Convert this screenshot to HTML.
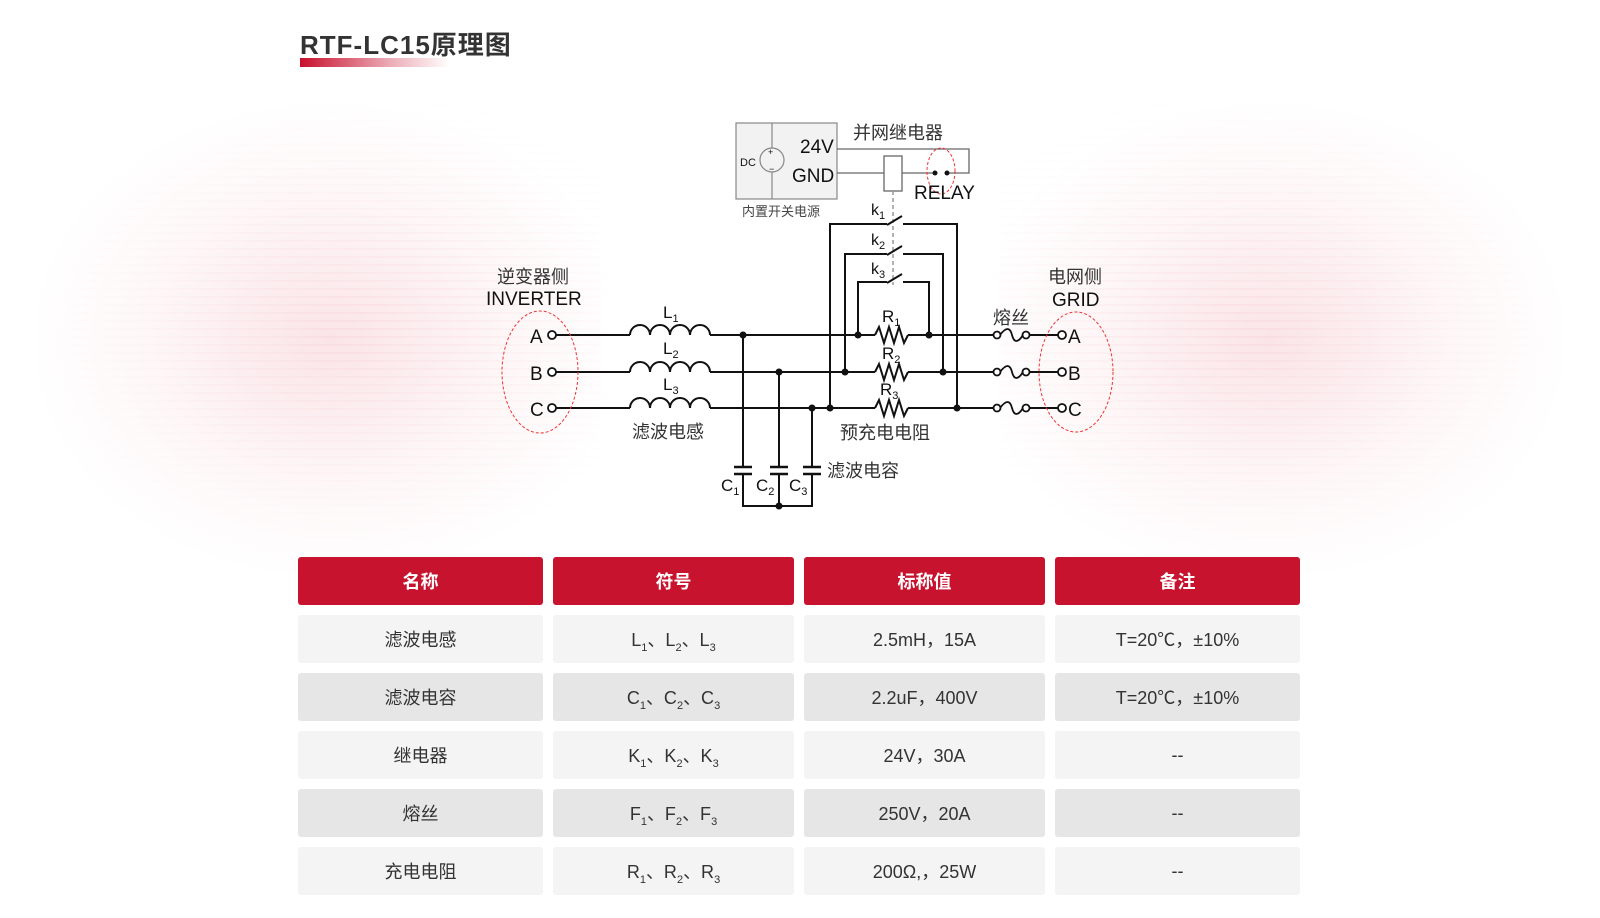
<!DOCTYPE html>
<html><head><meta charset="utf-8">
<style>
html,body{margin:0;padding:0}
body{width:1600px;height:918px;position:relative;overflow:hidden;background:#fff;font-family:"Liberation Sans","Noto Sans CJK SC",sans-serif}
.bg{position:absolute;top:60px;height:520px;width:600px}
.bgl{left:0;background:radial-gradient(ellipse 300px 240px at 330px 280px,rgba(232,120,135,0.20),rgba(240,160,170,0.09) 60%,rgba(255,255,255,0) 100%)}
.bgr{right:0;background:radial-gradient(ellipse 300px 240px at 270px 280px,rgba(232,120,135,0.20),rgba(240,160,170,0.09) 60%,rgba(255,255,255,0) 100%)}
.stripes{position:absolute;top:90px;height:460px;width:560px;background:repeating-linear-gradient(180deg,rgba(255,255,255,0) 0 6px,rgba(230,140,150,0.08) 6px 8px);}
.title{position:absolute;left:300px;top:30px;font-size:26px;line-height:30px;font-weight:bold;color:#333;font-family:"Liberation Sans","Noto Sans CJK SC",sans-serif;letter-spacing:1px}
.bar{position:absolute;left:300px;top:58px;width:150px;height:9px;background:linear-gradient(90deg,#c8102e,rgba(200,16,46,0.35) 60%,rgba(255,255,255,0))}
.c{position:absolute;display:flex;align-items:center;justify-content:center;font-size:18px;color:#333;border-radius:3px}
.h{background:#c8132f;color:#fff;font-weight:bold;height:48px;top:557px}
sub{font-size:11px;vertical-align:-5px;line-height:0}
</style></head><body>
<div class="bg bgl"></div><div class="bg bgr"></div>
<div class="stripes" style="left:40px;-webkit-mask-image:radial-gradient(ellipse at 60% 50%,#000,transparent 70%);mask-image:radial-gradient(ellipse at 60% 50%,#000,transparent 70%)"></div>
<div class="stripes" style="right:40px;-webkit-mask-image:radial-gradient(ellipse at 40% 50%,#000,transparent 70%);mask-image:radial-gradient(ellipse at 40% 50%,#000,transparent 70%)"></div>
<div class="title">RTF-LC15原理图</div>
<div class="bar"></div>

<svg width="1600" height="918" style="position:absolute;left:0;top:0" font-family="Liberation Sans, Noto Sans CJK SC, sans-serif">
<g fill="none" stroke="#111" stroke-width="2">
<rect x="736" y="123" width="101" height="76" fill="#f2f2f2" stroke="#888" stroke-width="1.2"/>
<line x1="772" y1="123" x2="772" y2="199" stroke="#888" stroke-width="1.2"/>
<circle cx="772" cy="160" r="12" fill="#f2f2f2" stroke="#888" stroke-width="1.2"/>
<polyline points="837,149 969,149 969,173 947,173" stroke="#666" stroke-width="1.3"/>
<line x1="837" y1="173" x2="884" y2="173" stroke="#666" stroke-width="1.3"/>
<line x1="902" y1="173" x2="935" y2="173" stroke="#666" stroke-width="1.3"/>
<rect x="884" y="156" width="18" height="35" fill="#fff" stroke="#666" stroke-width="1.3"/>
<ellipse cx="941" cy="171" rx="14" ry="23" stroke="#e33" stroke-width="1" stroke-dasharray="3,2"/>
<line x1="893" y1="191" x2="893" y2="285" stroke="#999" stroke-width="1.5" stroke-dasharray="4,3"/>
<polyline points="830,408 830,224 887,224"/><line x1="887" y1="225" x2="902" y2="216"/><polyline points="903,224 957,224 957,408"/>
<polyline points="845,372 845,254 887,254"/><line x1="887" y1="255" x2="902" y2="246"/><polyline points="903,254 943,254 943,372"/>
<polyline points="858,335 858,282 887,282"/><line x1="887" y1="283" x2="902" y2="274"/><polyline points="903,282 929,282 929,335"/>
<line x1="556" y1="335" x2="630" y2="335"/><line x1="710" y1="335" x2="875" y2="335"/><line x1="908" y1="335" x2="993" y2="335"/><line x1="1030" y1="335" x2="1058" y2="335"/>
<line x1="556" y1="372" x2="630" y2="372"/><line x1="710" y1="372" x2="875" y2="372"/><line x1="908" y1="372" x2="993" y2="372"/><line x1="1030" y1="372" x2="1058" y2="372"/>
<line x1="556" y1="408" x2="630" y2="408"/><line x1="710" y1="408" x2="875" y2="408"/><line x1="908" y1="408" x2="993" y2="408"/><line x1="1030" y1="408" x2="1058" y2="408"/>
<path d="M630,335 a10,10 0 0 1 20,0 a10,10 0 0 1 20,0 a10,10 0 0 1 20,0 a10,10 0 0 1 20,0"/>
<path d="M630,372 a10,10 0 0 1 20,0 a10,10 0 0 1 20,0 a10,10 0 0 1 20,0 a10,10 0 0 1 20,0"/>
<path d="M630,408 a10,10 0 0 1 20,0 a10,10 0 0 1 20,0 a10,10 0 0 1 20,0 a10,10 0 0 1 20,0"/>
<polyline points="875,335 879,327 884,343 889,327 894,343 899,327 904,343 908,335" fill="#fff"/>
<polyline points="875,372 879,364 884,380 889,364 894,380 899,364 904,380 908,372" fill="#fff"/>
<polyline points="875,408 879,400 884,416 889,400 894,416 899,400 904,416 908,408" fill="#fff"/>
<g stroke-width="1.8">
<circle cx="997" cy="335" r="3.5" fill="#fff"/><circle cx="1026" cy="335" r="3.5" fill="#fff"/><path d="M1000,335 c6,-8 10,-8 12,0 c2,8 6,8 11,0"/>
<circle cx="997" cy="372" r="3.5" fill="#fff"/><circle cx="1026" cy="372" r="3.5" fill="#fff"/><path d="M1000,372 c6,-8 10,-8 12,0 c2,8 6,8 11,0"/>
<circle cx="997" cy="408" r="3.5" fill="#fff"/><circle cx="1026" cy="408" r="3.5" fill="#fff"/><path d="M1000,408 c6,-8 10,-8 12,0 c2,8 6,8 11,0"/>
</g>
<polyline points="743,335 743,467"/><polyline points="743,474 743,506 812,506 812,474"/>
<polyline points="779,372 779,467"/><line x1="779" y1="474" x2="779" y2="506"/>
<polyline points="812,408 812,467"/>
<g stroke-width="2.5"><line x1="734" y1="467" x2="752" y2="467"/><line x1="734" y1="474" x2="752" y2="474"/>
<line x1="770" y1="467" x2="788" y2="467"/><line x1="770" y1="474" x2="788" y2="474"/>
<line x1="803" y1="467" x2="821" y2="467"/><line x1="803" y1="474" x2="821" y2="474"/></g>
<g stroke-width="1.8" fill="#fff">
<circle cx="552" cy="335" r="4"/><circle cx="552" cy="372" r="4"/><circle cx="552" cy="408" r="4"/>
<circle cx="1062" cy="335" r="4"/><circle cx="1062" cy="372" r="4"/><circle cx="1062" cy="408" r="4"/>
</g>
<ellipse cx="540" cy="372" rx="38" ry="61" stroke="#e33" stroke-width="1" stroke-dasharray="3,2"/>
<ellipse cx="1076" cy="372" rx="37" ry="60" stroke="#e33" stroke-width="1" stroke-dasharray="3,2"/>
</g>
<g fill="#111">
<circle cx="935" cy="173" r="2.5"/><circle cx="947" cy="173" r="2.5"/>
<circle cx="743" cy="335" r="3.5"/><circle cx="779" cy="372" r="3.5"/><circle cx="812" cy="408" r="3.5"/>
<circle cx="830" cy="408" r="3.5"/><circle cx="845" cy="372" r="3.5"/><circle cx="858" cy="335" r="3.5"/>
<circle cx="929" cy="335" r="3.5"/><circle cx="943" cy="372" r="3.5"/><circle cx="957" cy="408" r="3.5"/>
<circle cx="779" cy="506" r="3.5"/>
</g>
<g fill="#111" font-size="19">
<text x="740" y="166" font-size="11">DC</text>
<text x="768" y="155" font-size="9">+</text><text x="769" y="172" font-size="9">−</text>
<text x="800" y="153" font-size="19">24V</text>
<text x="792" y="182" font-size="19">GND</text>
<text x="853" y="139" font-size="18" fill="#333">并网继电器</text>
<text x="914" y="199" font-size="19">RELAY</text>
<text x="742" y="216" font-size="13" fill="#444">内置开关电源</text>
<text x="871" y="215" font-size="16">k<tspan font-size="11" dy="4">1</tspan></text>
<text x="871" y="245" font-size="16">k<tspan font-size="11" dy="4">2</tspan></text>
<text x="871" y="274" font-size="16">k<tspan font-size="11" dy="4">3</tspan></text>
<text x="497" y="283" font-size="18" fill="#333">逆变器侧</text>
<text x="486" y="305" font-size="19">INVERTER</text>
<text x="530" y="343">A</text><text x="530" y="380">B</text><text x="530" y="416">C</text>
<text x="1068" y="343">A</text><text x="1068" y="380">B</text><text x="1068" y="416">C</text>
<text x="1048" y="283" font-size="18" fill="#333">电网侧</text>
<text x="1052" y="306" font-size="19">GRID</text>
<text x="993" y="324" font-size="18" fill="#333">熔丝</text>
<text x="663" y="318" font-size="17">L<tspan font-size="11" dy="4">1</tspan></text>
<text x="663" y="354" font-size="17">L<tspan font-size="11" dy="4">2</tspan></text>
<text x="663" y="390" font-size="17">L<tspan font-size="11" dy="4">3</tspan></text>
<text x="882" y="322" font-size="17">R<tspan font-size="11" dy="4">1</tspan></text>
<text x="882" y="359" font-size="17">R<tspan font-size="11" dy="4">2</tspan></text>
<text x="880" y="395" font-size="17">R<tspan font-size="11" dy="4">3</tspan></text>
<text x="632" y="438" font-size="18" fill="#333">滤波电感</text>
<text x="840" y="439" font-size="18" fill="#333">预充电电阻</text>
<text x="827" y="477" font-size="18" fill="#333">滤波电容</text>
<text x="721" y="491" font-size="17">C<tspan font-size="11" dy="4">1</tspan></text>
<text x="756" y="491" font-size="17">C<tspan font-size="11" dy="4">2</tspan></text>
<text x="789" y="491" font-size="17">C<tspan font-size="11" dy="4">3</tspan></text>
</g>
</svg>

<div class="c h" style="left:298px;width:245px">名称</div>
<div class="c h" style="left:553px;width:241px">符号</div>
<div class="c h" style="left:804px;width:241px">标称值</div>
<div class="c h" style="left:1055px;width:245px">备注</div>

<div class="c" style="left:298px;top:615px;width:245px;height:48px;background:#f4f4f4">滤波电感</div>
<div class="c" style="left:553px;top:615px;width:241px;height:48px;background:#f4f4f4"><span>L<sub>1</sub>、L<sub>2</sub>、L<sub>3</sub></span></div>
<div class="c" style="left:804px;top:615px;width:241px;height:48px;background:#f4f4f4">2.5mH，15A</div>
<div class="c" style="left:1055px;top:615px;width:245px;height:48px;background:#f4f4f4">T=20℃，±10%</div>

<div class="c" style="left:298px;top:673px;width:245px;height:48px;background:#e6e6e6">滤波电容</div>
<div class="c" style="left:553px;top:673px;width:241px;height:48px;background:#e6e6e6"><span>C<sub>1</sub>、C<sub>2</sub>、C<sub>3</sub></span></div>
<div class="c" style="left:804px;top:673px;width:241px;height:48px;background:#e6e6e6">2.2uF，400V</div>
<div class="c" style="left:1055px;top:673px;width:245px;height:48px;background:#e6e6e6">T=20℃，±10%</div>

<div class="c" style="left:298px;top:731px;width:245px;height:48px;background:#f4f4f4">继电器</div>
<div class="c" style="left:553px;top:731px;width:241px;height:48px;background:#f4f4f4"><span>K<sub>1</sub>、K<sub>2</sub>、K<sub>3</sub></span></div>
<div class="c" style="left:804px;top:731px;width:241px;height:48px;background:#f4f4f4">24V，30A</div>
<div class="c" style="left:1055px;top:731px;width:245px;height:48px;background:#f4f4f4">--</div>

<div class="c" style="left:298px;top:789px;width:245px;height:48px;background:#e6e6e6">熔丝</div>
<div class="c" style="left:553px;top:789px;width:241px;height:48px;background:#e6e6e6"><span>F<sub>1</sub>、F<sub>2</sub>、F<sub>3</sub></span></div>
<div class="c" style="left:804px;top:789px;width:241px;height:48px;background:#e6e6e6">250V，20A</div>
<div class="c" style="left:1055px;top:789px;width:245px;height:48px;background:#e6e6e6">--</div>

<div class="c" style="left:298px;top:847px;width:245px;height:48px;background:#f4f4f4">充电电阻</div>
<div class="c" style="left:553px;top:847px;width:241px;height:48px;background:#f4f4f4"><span>R<sub>1</sub>、R<sub>2</sub>、R<sub>3</sub></span></div>
<div class="c" style="left:804px;top:847px;width:241px;height:48px;background:#f4f4f4">200Ω,，25W</div>
<div class="c" style="left:1055px;top:847px;width:245px;height:48px;background:#f4f4f4">--</div>
</body></html>
